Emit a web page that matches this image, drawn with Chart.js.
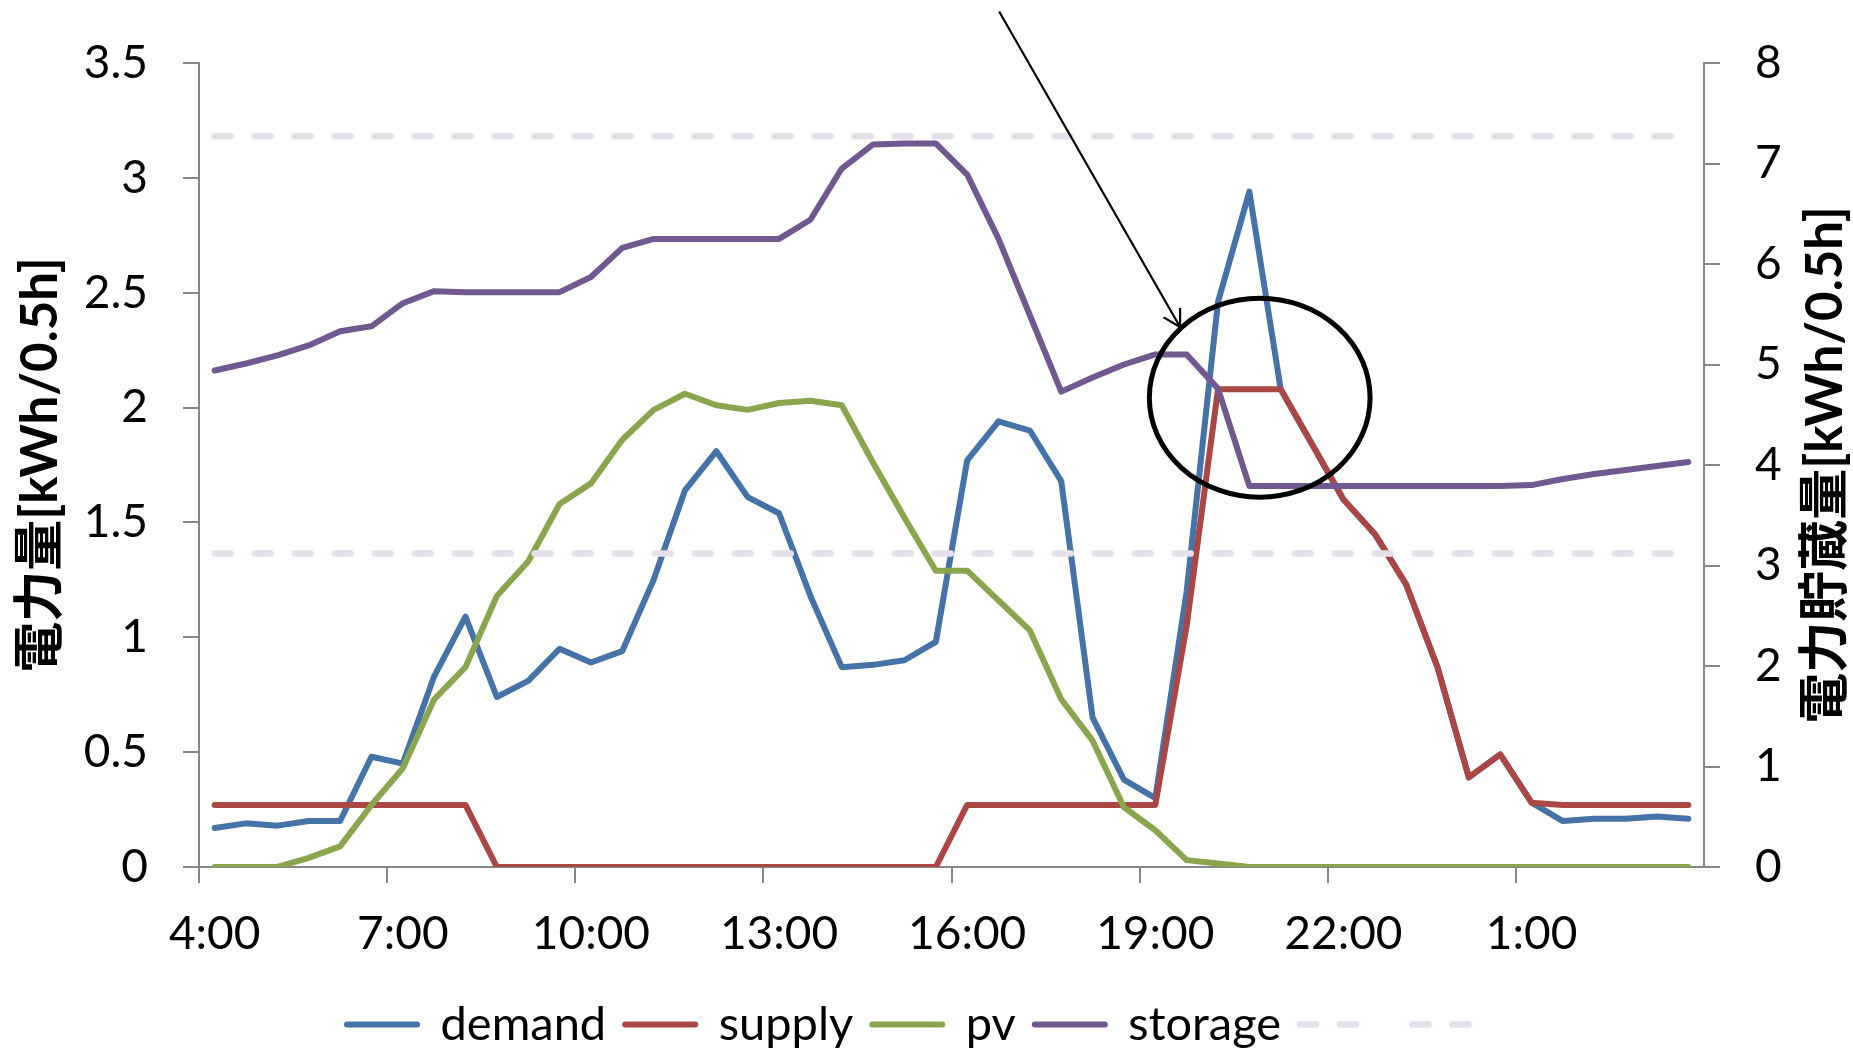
<!DOCTYPE html>
<html>
<head>
<meta charset="utf-8">
<script src="https://cdn.jsdelivr.net/npm/chart.js@4.4.1/dist/chart.umd.min.js"></script>
<style>
  html, body { margin: 0; padding: 0; background: #fff; overflow: hidden; }
  #wrap { position: relative; width: 1853px; height: 1048px; }
</style>
</head>
<body>
<div id="wrap"><canvas id="chart"></canvas></div>
<script>
// half-hour slots, 4:00 -> 3:30 next day
const timeLabels = [
  '4:00', '4:30', '5:00', '5:30', '6:00', '6:30', '7:00', '7:30', '8:00', '8:30', '9:00', '9:30',
  '10:00', '10:30', '11:00', '11:30', '12:00', '12:30', '13:00', '13:30', '14:00', '14:30', '15:00', '15:30',
  '16:00', '16:30', '17:00', '17:30', '18:00', '18:30', '19:00', '19:30', '20:00', '20:30', '21:00', '21:30',
  '22:00', '22:30', '23:00', '23:30', '0:00', '0:30', '1:00', '1:30', '2:00', '2:30', '3:00', '3:30'
];

// kWh / 0.5h (left axis)
const demand = [
  0.17, 0.19, 0.18, 0.20, 0.20, 0.48, 0.45, 0.83, 1.09, 0.74, 0.81, 0.95,
  0.89, 0.94, 1.25, 1.64, 1.81, 1.61, 1.54, 1.18, 0.87, 0.88, 0.90, 0.98,
  1.77, 1.94, 1.90, 1.68, 0.65, 0.38, 0.30, 1.20, 2.46, 2.94, 2.08, 1.84,
  1.60, 1.45, 1.23, 0.87, 0.39, 0.49, 0.28, 0.20, 0.21, 0.21, 0.22, 0.21
];
const supply = [
  0.27, 0.27, 0.27, 0.27, 0.27, 0.27, 0.27, 0.27, 0.27, 0, 0, 0,
  0, 0, 0, 0, 0, 0, 0, 0, 0, 0, 0, 0,
  0.27, 0.27, 0.27, 0.27, 0.27, 0.27, 0.27, 1.05, 2.08, 2.08, 2.08, 1.84,
  1.60, 1.45, 1.23, 0.87, 0.39, 0.49, 0.28, 0.27, 0.27, 0.27, 0.27, 0.27
];
const pv = [
  0, 0, 0, 0.04, 0.09, 0.27, 0.43, 0.73, 0.87, 1.18, 1.33, 1.58,
  1.67, 1.86, 1.99, 2.06, 2.01, 1.99, 2.02, 2.03, 2.01, 1.76, 1.52, 1.29,
  1.29, 1.16, 1.03, 0.73, 0.55, 0.26, 0.16, 0.03, 0.015, 0, 0, 0,
  0, 0, 0, 0, 0, 0, 0, 0, 0, 0, 0, 0
];
// kWh stored (right axis)
const storage = [
  4.94, 5.01, 5.09, 5.19, 5.33, 5.38, 5.61, 5.73, 5.72, 5.72, 5.72, 5.72,
  5.87, 6.16, 6.25, 6.25, 6.25, 6.25, 6.25, 6.44, 6.95, 7.19, 7.20, 7.20,
  6.89, 6.25, 5.49, 4.73, 4.87, 5.00, 5.10, 5.10, 4.76, 3.79, 3.79, 3.79,
  3.79, 3.79, 3.79, 3.79, 3.79, 3.79, 3.80, 3.86, 3.91, 3.95, 3.99, 4.03
];
const storageMax = 7.27;
const storageMin = 3.12;

const leftTicks = { min: 0, max: 3.5, step: 0.5 };
const rightTicks = { min: 0, max: 8, step: 1 };
const leftTitle = '電力量[kWh/0.5h]';
const rightTitle = '電力貯蔵量[kWh/0.5h]';

// annotation: circle round the evening peak and an arrow pointing at it (index, left-axis value)
const noteCircle = { x: 33.33, y: 2.043, rx: 3.52, ry: 0.433 };
const noteArrow = { from: [25.02, 3.724], to: [30.79, 2.351] };

const FONT = 'Lato, "Noto Sans CJK JP", sans-serif';
const AXIS = '#878787';

const axisTitles = {
  id: 'axisTitles',
  afterDraw(chart) {
    const { ctx, chartArea } = chart;
    const cy = (chartArea.top + chartArea.bottom) / 2;
    ctx.save();
    ctx.font = 'bold 51px ' + FONT;
    ctx.fillStyle = '#000';
    ctx.textAlign = 'center';
    ctx.textBaseline = 'middle';
    [[chartArea.left - 158, leftTitle], [chartArea.right + 122, rightTitle]].forEach(([x, t]) => {
      ctx.save();
      ctx.translate(x, cy);
      ctx.rotate(-Math.PI / 2);
      ctx.fillText(t, 0, 0);
      ctx.restore();
    });
    ctx.restore();
  }
};

const notes = {
  id: 'notes',
  afterDatasetsDraw(chart) {
    const { ctx } = chart;
    const x = chart.scales.x, y = chart.scales.y;
    ctx.save();
    ctx.strokeStyle = '#000';

    // ellipse
    const cx = x.getPixelForValue(noteCircle.x);
    const cy = y.getPixelForValue(noteCircle.y);
    const rx = x.getPixelForValue(noteCircle.x + noteCircle.rx) - cx;
    const ry = cy - y.getPixelForValue(noteCircle.y + noteCircle.ry);
    ctx.lineWidth = 5;
    ctx.beginPath();
    ctx.ellipse(cx, cy, rx, ry, 0, 0, Math.PI * 2);
    ctx.stroke();

    // arrow
    const x0 = x.getPixelForValue(noteArrow.from[0]), y0 = y.getPixelForValue(noteArrow.from[1]);
    const x1 = x.getPixelForValue(noteArrow.to[0]), y1 = y.getPixelForValue(noteArrow.to[1]);
    ctx.lineWidth = 2.2;
    ctx.beginPath();
    ctx.moveTo(x0, y0);
    ctx.lineTo(x1, y1);
    const ang = Math.atan2(y0 - y1, x0 - x1);
    [-Math.PI / 6, Math.PI / 6].forEach(d => {
      ctx.moveTo(x1, y1);
      ctx.lineTo(x1 + 19 * Math.cos(ang + d), y1 + 19 * Math.sin(ang + d));
    });
    ctx.stroke();
    ctx.restore();
  }
};

function lineSet(label, data, color, axis, order) {
  return {
    label, data, yAxisID: axis, order,
    borderColor: color, backgroundColor: color,
    borderWidth: 6, borderCapStyle: 'round', borderJoinStyle: 'round',
    pointRadius: 0, tension: 0, fill: false
  };
}
function limitSet(value, order) {
  return {
    label: '', data: timeLabels.map(() => value), yAxisID: 'y2', order,
    borderColor: '#E6E0EC', backgroundColor: '#E6E0EC',
    borderWidth: 6.5, borderDash: [16, 24], borderCapStyle: 'round',
    pointRadius: 0, tension: 0, fill: false
  };
}

// legend samples: take width / dash / cap from the dataset line itself
function legendLabels(chart) {
  return Chart.defaults.plugins.legend.labels.generateLabels(chart).map(item => {
    const ds = chart.data.datasets[item.datasetIndex];
    item.strokeStyle = ds.borderColor;
    item.lineWidth = ds.borderWidth;
    item.lineDash = ds.borderDash || [];
    item.lineCap = 'round';
    return item;
  });
}

const tickNum = v => String(+Number(v).toFixed(1));

const ctx = document.getElementById('chart').getContext('2d');
new Chart(ctx, {
  type: 'line',
  data: {
    labels: timeLabels,
    datasets: [
      lineSet('demand', demand, '#4572A7', 'y', 6),
      lineSet('supply', supply, '#AA4643', 'y', 5),
      lineSet('pv', pv, '#89A54E', 'y', 4),
      lineSet('storage', storage, '#71588F', 'y2', 3),
      limitSet(storageMax, 2),
      limitSet(storageMin, 1)
    ]
  },
  options: {
    responsive: true,
    maintainAspectRatio: false,
    animation: false,
    layout: { padding: { top: 63, left: 0, right: 0, bottom: 0 } },
    plugins: {
      tooltip: { enabled: false },
      legend: {
        position: 'bottom',
        maxHeight: 66,
        labels: {
          usePointStyle: true,
          pointStyle: 'line',
          pointStyleWidth: 70,
          padding: 19,
          color: '#000',
          font: { family: FONT, size: 47 },
          generateLabels: legendLabels,
          sort: (a, b) => a.datasetIndex - b.datasetIndex
        }
      }
    },
    scales: {
      x: {
        offset: true,
        grid: {
          offset: true,
          drawOnChartArea: false,
          tickLength: 16,
          lineWidth: 2,
          tickColor: c => (c.index % 6 === 0 ? AXIS : 'rgba(0,0,0,0)')
        },
        border: { color: AXIS, width: 2 },
        ticks: {
          autoSkip: false,
          maxRotation: 0,
          padding: 24,
          color: '#000',
          font: { family: FONT, size: 46 },
          callback: (v, i) => (i % 6 === 0 ? timeLabels[i] : '')
        },
        afterFit: s => { s.height = 115; }
      },
      y: {
        position: 'left',
        min: leftTicks.min,
        max: leftTicks.max,
        grid: { drawOnChartArea: false, tickLength: 16, lineWidth: 2, color: AXIS },
        border: { color: AXIS, width: 2 },
        ticks: {
          stepSize: leftTicks.step,
          padding: 35,
          color: '#000',
          font: { family: FONT, size: 46 },
          callback: tickNum
        },
        afterFit: s => { s.width = 199; }
      },
      y2: {
        position: 'right',
        min: rightTicks.min,
        max: rightTicks.max,
        grid: { drawOnChartArea: false, tickLength: 16, lineWidth: 2, color: AXIS },
        border: { color: AXIS, width: 2 },
        ticks: {
          stepSize: rightTicks.step,
          padding: 35,
          color: '#000',
          font: { family: FONT, size: 46 },
          callback: tickNum
        },
        afterFit: s => { s.width = 149; }
      }
    }
  },
  plugins: [axisTitles, notes]
});
</script>
</body>
</html>
